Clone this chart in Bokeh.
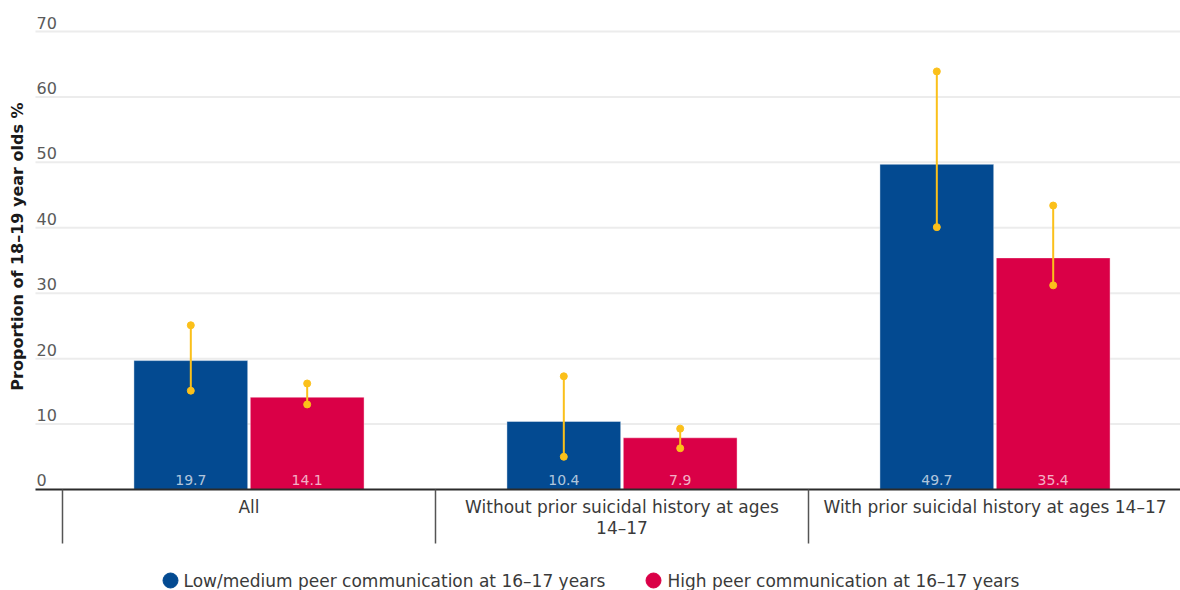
from math import pi

from bokeh.core.properties import value
from bokeh.embed import file_html
from bokeh.models import ColumnDataSource, Range1d
from bokeh.plotting import figure
from bokeh.resources import INLINE

# ---- data -------------------------------------------------------------
groups = ["All", "Without prior suicidal history at ages 14–17",
          "With prior suicidal history at ages 14–17"]
group_lines = [["All"], ["Without prior suicidal history at ages", "14–17"],
               ["With prior suicidal history at ages 14–17"]]
series_names = ["Low/medium peer communication at 16–17 years",
                "High peer communication at 16–17 years"]
low_medium = [19.7, 10.4, 49.7]
low_medium_lo = [15.1, 5.0, 40.1]
low_medium_hi = [25.1, 17.3, 63.9]
high = [14.1, 7.9, 35.4]
high_lo = [13.0, 6.3, 31.2]
high_hi = [16.2, 9.3, 43.4]
y_ticks = [0, 10, 20, 30, 40, 50, 60, 70]
y_title = "Proportion of 18–19 year olds %"

# ---- styling ------------------------------------------------------------
BLUE = "#034a91"
RED = "#da0047"
GOLD = "#fbc01a"
FONT = "DejaVu Sans"
W, H = 1180, 590

# plot covers the full canvas; ranges chosen so that one category is 373px
# wide and 10 units of the value axis span about 65px
X0, X1 = -0.6662, 2.4973
Y0, Y1 = -15.44, 74.74


def sx(px):
    return X0 + px * (X1 - X0) / W


def sy(py):
    return Y1 - py * (Y1 - Y0) / H


p = figure(width=W, height=H, x_range=Range1d(X0, X1), y_range=Range1d(Y0, Y1),
           output_backend="svg", toolbar_location=None, min_border=0,
           outline_line_color=None)
p.axis.visible = False
p.grid.visible = False
p.background_fill_color = "white"

cats = list(range(len(groups)))
dodge = 0.156
bar_w = 0.305
left_edge = sx(35)

# horizontal gridlines
grid = ColumnDataSource(dict(y=[t for t in y_ticks if t > 0]))
p.segment(x0=left_edge, x1=X1, y0="y", y1="y", source=grid,
          line_color="#ececec", line_width=2)

# tick labels sit above their gridline
ticks = ColumnDataSource(dict(y=y_ticks, t=[str(t) for t in y_ticks]))
p.text(x=sx(36), y="y", text="t", source=ticks, text_font=value(FONT),
       text_font_size="16px", text_color="#5a5a5a", text_baseline="bottom",
       y_offset=-3)

# bars
for vals, lo, hi, off, color in [
    (low_medium, low_medium_lo, low_medium_hi, -dodge, BLUE),
    (high, high_lo, high_hi, dodge, RED),
]:
    xs = [c + off for c in cats]
    src = ColumnDataSource(dict(x=xs, top=vals, lo=lo, hi=hi,
                                lbl=[f"{v:.1f}" for v in vals]))
    p.vbar(x="x", top="top", bottom=0, width=bar_w, source=src,
           fill_color=color, line_color="white", line_alpha=0.4, line_width=1)
    p.text(x="x", y=0, text="lbl", source=src, text_font=value(FONT),
           text_font_size="14px", text_color="white", text_alpha=0.7,
           text_align="center", text_baseline="bottom", y_offset=-4)
    p.segment(x0="x", x1="x", y0="lo", y1="hi", source=src,
              line_color=GOLD, line_width=2)
    p.scatter(x="x", y="lo", source=src, size=7, color=GOLD)
    p.scatter(x="x", y="hi", source=src, size=7, color=GOLD)

# baseline and category dividers
p.segment(x0=left_edge, x1=X1, y0=0, y1=0, line_color="#2b2b2b", line_width=2)
div = ColumnDataSource(dict(x=[c - 0.5 for c in cats] + [len(cats) - 0.5]))
p.segment(x0="x", x1="x", y0=0, y1=sy(543), source=div,
          line_color="#555555", line_width=1.5)

# category labels (wrapped lines)
lx, ly, lt = [], [], []
for c, lines in zip(cats, group_lines):
    for i, line in enumerate(lines):
        lx.append(c)
        ly.append(sy(506 + 21 * i))
        lt.append(line)
p.text(x=lx, y=ly, text=lt, text_font=value(FONT), text_font_size="17px",
       text_color="#3a3a3a", text_align="center", text_baseline="middle")

# value-axis title
p.text(x=[sx(17)], y=[sy(246)], text=[y_title], angle=pi / 2,
       text_font=value(FONT), text_font_size="16px", text_font_style="bold",
       text_color="#1a1a1a", text_align="center", text_baseline="middle")

# legend
leg = ColumnDataSource(dict(x=[sx(170), sx(653)], y=[sy(580), sy(580)],
                            tx=[sx(183), sx(667)], c=[BLUE, RED],
                            t=series_names))
p.scatter(x="x", y="y", source=leg, size=15, color="c")
p.text(x="tx", y="y", text="t", source=leg, text_font=value(FONT),
       text_font_size="17px", text_color="#3a3a3a", text_baseline="middle")

open("out.html", "w").write(file_html(p, INLINE))
